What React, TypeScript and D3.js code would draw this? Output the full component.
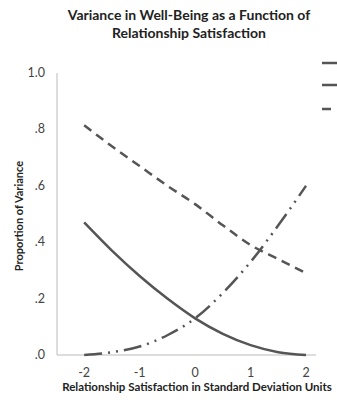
import React, { useEffect, useRef } from "react";
import * as d3 from "d3";

const sd = [-2, -1.5, -1, -0.5, 0, 0.5, 1, 1.5, 2];
const solidVals = [0.47, 0.37, 0.28, 0.2, 0.13, 0.075, 0.035, 0.01, 0.0];
const dashedVals = [0.815, 0.74, 0.67, 0.6, 0.535, 0.46, 0.39, 0.34, 0.29];
const dashDotVals = [0.0, 0.01, 0.03, 0.07, 0.13, 0.22, 0.33, 0.46, 0.6];
const yTicks = [0, 0.2, 0.4, 0.6, 0.8, 1.0];
const xTicks = [-2, -1, 0, 1, 2];

const title = ["Variance in Well-Being as a Function of", "Relationship Satisfaction"];
const xTitle = "Relationship Satisfaction in Standard Deviation Units";
const yTitle = "Proportion of Variance";

const App = () => {
  const ref = useRef<SVGSVGElement | null>(null);

  useEffect(() => {
    const width = 337;
    const height = 400;
    const left = 57;
    const right = 316;
    const top = 73;
    const bottom = 355;
    const font = "Lato, 'Open Sans', sans-serif";
    const ink = "#555";

    const svg = d3.select(ref.current);
    svg.selectAll("*").remove();
    svg.attr("width", width).attr("height", height);

    const x = d3.scaleLinear().domain([-2.49, 2.18]).range([left, right]);
    const y = d3.scaleLinear().domain([0, 1]).range([bottom, top]);

    svg
      .append("text")
      .attr("x", 189)
      .attr("y", 20)
      .attr("text-anchor", "middle")
      .style("font-family", font)
      .style("font-weight", "bold")
      .style("font-size", "14px")
      .style("fill", "#222")
      .selectAll("tspan")
      .data(title)
      .enter()
      .append("tspan")
      .attr("x", 189)
      .attr("dy", (d, i) => (i === 0 ? 0 : 18))
      .text((d) => d);

    // axes lines
    svg
      .append("line")
      .attr("x1", left)
      .attr("x2", left)
      .attr("y1", y(1))
      .attr("y2", y(0))
      .attr("stroke", "#bbb")
      .attr("stroke-width", 1);
    svg
      .append("line")
      .attr("x1", left)
      .attr("x2", right)
      .attr("y1", y(0))
      .attr("y2", y(0))
      .attr("stroke", "#bbb")
      .attr("stroke-width", 1);

    svg
      .selectAll("ytick")
      .data(yTicks)
      .enter()
      .append("text")
      .attr("x", 45)
      .attr("y", (d) => y(d) + 4)
      .attr("text-anchor", "end")
      .style("font-family", font)
      .style("font-size", "12.5px")
      .style("fill", "#444")
      .text((d) => (d === 1 ? "1.0" : d3.format(".1f")(d).replace(/^0/, "")));

    svg
      .selectAll("xtick")
      .data(xTicks)
      .enter()
      .append("text")
      .attr("x", (d) => x(d))
      .attr("y", 377)
      .attr("text-anchor", "middle")
      .style("font-family", font)
      .style("font-size", "12.5px")
      .style("fill", "#444")
      .text((d) => String(d));

    svg
      .append("text")
      .attr("x", 197)
      .attr("y", 391)
      .attr("text-anchor", "middle")
      .style("font-family", font)
      .style("font-weight", "bold")
      .style("font-size", "11.5px")
      .style("fill", "#222")
      .text(xTitle);

    svg
      .append("text")
      .attr("transform", `translate(23, ${(top + bottom) / 2 + 2}) rotate(-90)`)
      .attr("text-anchor", "middle")
      .style("font-family", font)
      .style("font-weight", "bold")
      .style("font-size", "11px")
      .style("fill", "#222")
      .text(yTitle);

    const series = [
      { vals: solidVals, dash: null },
      { vals: dashedVals, dash: "9,6" },
      { vals: dashDotVals, dash: "18,6,2,6,2,6" },
    ];

    const line = d3
      .line<number>()
      .x((d, i) => x(sd[i]))
      .y((d) => y(d))
      .curve(d3.curveMonotoneX);

    series.forEach((s) => {
      svg
        .append("path")
        .attr("d", line(s.vals))
        .attr("fill", "none")
        .attr("stroke", ink)
        .attr("stroke-width", 2.5)
        .attr("stroke-dasharray", s.dash);
    });

    // legend swatches (labels fall outside the frame)
    const legendY = [63, 85, 109];
    const legendDash = [null, null, "9,6"];
    legendY.forEach((ly, i) => {
      svg
        .append("line")
        .attr("x1", 322)
        .attr("x2", i === 2 ? 331 : 340)
        .attr("y1", ly)
        .attr("y2", ly)
        .attr("stroke", ink)
        .attr("stroke-width", 2.5)
        .attr("stroke-dasharray", legendDash[i]);
    });
  }, []);

  return (
    <svg
      ref={ref}
      style={{ position: "absolute", left: 0, top: 0, background: "#fff" }}
    ></svg>
  );
};

export default App;
